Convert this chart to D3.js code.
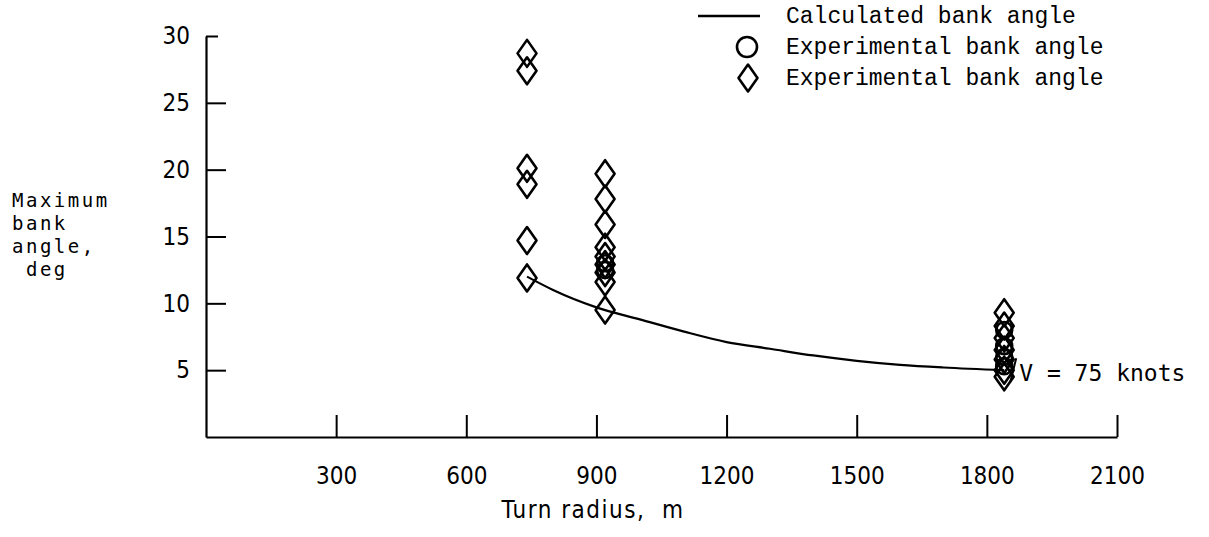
<!DOCTYPE html>
<html>
<head>
<meta charset="utf-8">
<script src="https://cdnjs.cloudflare.com/ajax/libs/d3/7.8.5/d3.min.js"></script>
<style>
  body { margin: 0; background: #fff; }
  svg text { fill: #000; }
</style>
</head>
<body>
<div id="chart"></div>
<script>
var WIDTH = 1209
var HEIGHT = 537

// calculated bank angle curve
var calcRadius = [740, 800, 900, 1000, 1100, 1200, 1300, 1400, 1500, 1600, 1700, 1840];
var calcAngle = [12.0, 11.0, 9.7, 8.8, 7.9, 7.1, 6.6, 6.1, 5.7, 5.4, 5.2, 5.0];

// experimental points (diamonds)
var diamondRadius = [740, 740, 740, 740, 740, 740,
    920, 920, 920, 920, 920, 920, 920, 920, 920,
    1840, 1840, 1840, 1840, 1840, 1840, 1840];
var diamondAngle = [28.7, 27.4, 20.1, 18.9, 14.7, 11.9,
    19.7, 17.8, 15.9, 14.2, 13.5, 12.9, 12.3, 11.6, 9.5,
    9.3, 8.3, 7.4, 6.5, 5.8, 5.0, 4.5];

// experimental points (circles)
var circleRadius = [920, 920, 1840, 1840, 1840, 1840];
var circleAngle = [13.0, 12.5, 8.0, 6.8, 6.0, 5.3];

var xTicks = [300, 600, 900, 1200, 1500, 1800, 2100];
var yTicks = [5, 10, 15, 20, 25, 30];
var legendLabels = ['Calculated bank angle', 'Experimental bank angle', 'Experimental bank angle'];
var yTitleLines = ['Maximum', 'bank', 'angle,', ' deg'];

var monoFont = '"DejaVu Sans Mono", monospace';
var narrowFont = '"Liberation Sans Narrow", "DejaVu Sans Condensed", sans-serif';
var typeFont = '"Liberation Mono", "Courier New", monospace';

var svg = d3.select('#chart').append('svg')
    .attr('width', WIDTH)
    .attr('height', HEIGHT);

let xScale = d3.scaleLinear().domain([0, 2100]).range([206, 1117]);
let yScale = d3.scaleLinear().domain([0, 30]).range([437, 36]);

// axes
var xAxis = d3.axisBottom(xScale).tickValues(xTicks).tickFormat(d3.format('d'))
    .tickSizeInner(-22).tickSizeOuter(0).tickPadding(30);
var yAxis = d3.axisLeft(yScale).tickValues(yTicks).tickFormat(d3.format('d'))
    .tickSizeInner(-20).tickSizeOuter(0).tickPadding(36);

var gx = svg.append('g').attr('transform', 'translate(0,' + yScale(0) + ')').call(xAxis);
var gy = svg.append('g').attr('transform', 'translate(' + xScale(0) + ',0)').call(yAxis);

[gx, gy].forEach(g => {
    g.selectAll('path.domain').attr('stroke', '#000').attr('stroke-width', 2.2);
    g.selectAll('.tick line').attr('stroke', '#000').attr('stroke-width', 2);
    g.selectAll('.tick text')
        .attr('font-family', narrowFont)
        .attr('font-size', 24)
        .attr('fill', '#000');
});
gy.selectAll('.tick text').attr('text-anchor', 'end').attr('x', -16);
// top tick is short in the original
gy.selectAll('.tick').filter(d => d === 30).select('line').attr('x2', 12);

// axis titles
svg.append('text')
    .attr('x', 593)
    .attr('y', 518)
    .attr('text-anchor', 'middle')
    .attr('font-family', narrowFont)
    .attr('font-size', 24)
    .attr('letter-spacing', 1.5)
    .attr('xml:space', 'preserve')
    .style('white-space', 'pre')
    .text('Turn radius,  m');

svg.append('g').selectAll('text')
    .data(yTitleLines)
    .enter()
    .append('text')
    .attr('x', 12)
    .attr('y', (d, i) => 207 + i * 23)
    .attr('font-family', monoFont)
    .attr('font-size', 19)
    .attr('letter-spacing', 2.5)
    .attr('xml:space', 'preserve')
    .style('white-space', 'pre')
    .text(d => d);

// calculated curve
var line = d3.line()
    .x((d, i) => xScale(calcRadius[i]))
    .y(d => yScale(d))
    .curve(d3.curveMonotoneX);

svg.append('path')
    .datum(calcAngle)
    .attr('d', line)
    .attr('fill', 'none')
    .attr('stroke', '#000')
    .attr('stroke-width', 2.2);

// diamond symbol path (tall)
function diamond(cx, cy) {
    var w = 9.5, h = 13.5;
    return 'M' + cx + ',' + (cy - h) + 'L' + (cx + w) + ',' + cy + 'L' + cx + ',' + (cy + h) + 'L' + (cx - w) + ',' + cy + 'Z';
}

svg.append('g').selectAll('path')
    .data(diamondAngle)
    .enter()
    .append('path')
    .attr('d', (d, i) => diamond(xScale(diamondRadius[i]), yScale(d)))
    .attr('fill', 'none')
    .attr('stroke', '#000')
    .attr('stroke-width', 2.6)
    .attr('stroke-linejoin', 'round');

svg.append('g').selectAll('circle')
    .data(circleAngle)
    .enter()
    .append('circle')
    .attr('cx', (d, i) => xScale(circleRadius[i]))
    .attr('cy', d => yScale(d))
    .attr('r', 8)
    .attr('fill', 'none')
    .attr('stroke', '#000')
    .attr('stroke-width', 2.6);

// V = 75 knots note with leader
var noteX = xScale(1840), noteY = yScale(5);
svg.append('line')
    .attr('x1', noteX + 6).attr('y1', noteY + 12)
    .attr('x2', noteX + 12).attr('y2', noteY - 12)
    .attr('stroke', '#000').attr('stroke-width', 2);
svg.append('text')
    .attr('x', noteX + 15)
    .attr('y', noteY + 11)
    .attr('font-family', monoFont)
    .attr('font-size', 23)
    .text('V = 75 knots');

// legend
var legend = svg.append('g');
var legY = [16, 47, 78];
legend.append('line')
    .attr('x1', 698).attr('x2', 760)
    .attr('y1', legY[0]).attr('y2', legY[0])
    .attr('stroke', '#000').attr('stroke-width', 2.4);
legend.append('circle')
    .attr('cx', 747).attr('cy', legY[1])
    .attr('r', 10)
    .attr('fill', 'none').attr('stroke', '#000').attr('stroke-width', 2.6);
legend.append('path')
    .attr('d', diamond(748, legY[2]))
    .attr('fill', 'none').attr('stroke', '#000').attr('stroke-width', 2.6)
    .attr('stroke-linejoin', 'round');
legend.selectAll('text.leg')
    .data(legendLabels)
    .enter()
    .append('text')
    .attr('class', 'leg')
    .attr('x', 786)
    .attr('y', (d, i) => legY[i] + 7)
    .attr('font-family', typeFont)
    .attr('font-size', 23)
    .text(d => d);
</script>
</body>
</html>
